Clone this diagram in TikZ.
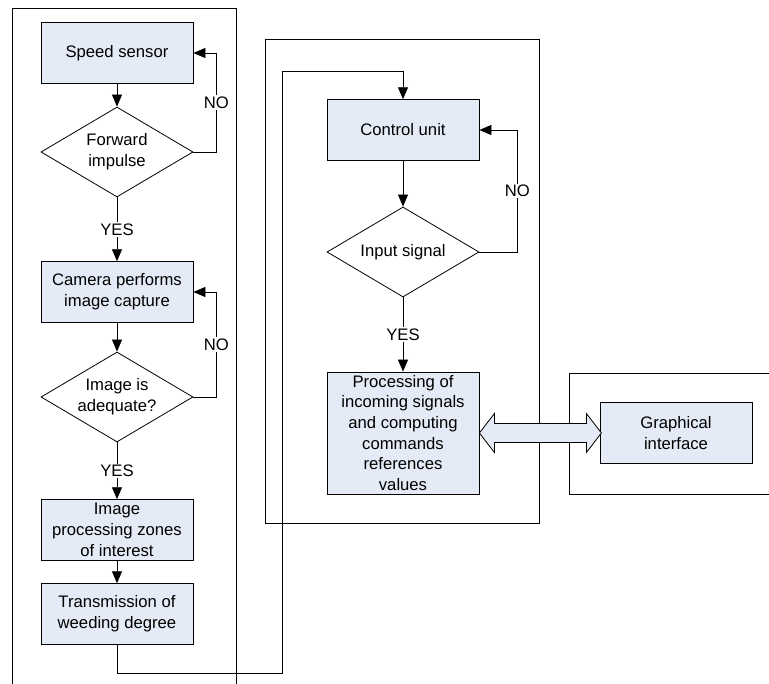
\documentclass[tikz,border=0pt]{standalone}
\usepackage{fontspec}
\setmainfont{Liberation Sans}
\usetikzlibrary{shapes.geometric,arrows.meta}
\definecolor{boxblue}{RGB}{229,235,246}
\begin{document}
\begin{tikzpicture}[x=0.75pt,y=-0.75pt,line width=0.6pt,
      font=\fontsize{12.5}{15.5}\selectfont,
      blk/.style={draw, fill=boxblue, minimum width=114pt, minimum height=45.5pt, align=center, inner sep=1pt},
      test/.style={draw, diamond, aspect=1.7, minimum width=114pt, minimum height=67.5pt, align=center, inner sep=0pt},
      arr/.style={-{Triangle[length=9pt,width=7.5pt]}},
      lbl/.style={fill=white, inner sep=1pt}]
      \useasboundingbox (0,0) rectangle (769,684);
      % panels
      \draw (12,684) -- (12,8) -- (236,8) -- (236,684);
      \draw (265,39) rectangle (539,523);
      \draw (769,373) -- (569,373) -- (569,494) -- (769,494);
      % left column
      \node[blk] (speed) at (117,53) {Speed sensor};
      \node[test] (fwd) at (117,152) {Forward\\impulse};
      \node[blk] (camera) at (117,292) {Camera performs\\image capture};
      \node[test] (adeq) at (117,397) {Image is\\adequate?};
      \node[blk] (zones) at (117,530) {Image\\processing zones\\of interest};
      \node[blk] (trans) at (117,614) {Transmission of\\weeding degree};
      % middle and right
      \node[blk] (ctrl) at (403,130) {Control unit};
      \node[test] (input) at (403,252) {Input signal};
      \node[blk, minimum height=91.5pt] (proc) at (403,433) {Processing of\\incoming signals\\and computing\\commands\\references\\values};
      \node[blk] (gui) at (676,433) {Graphical\\interface};
      \coordinate (c1) at (282,673);
      \coordinate (c2) at (282,71);
      % connectors
      \draw[arr] (speed) -- (fwd);
      \draw[arr] (fwd) -- node[lbl] {YES} (camera);
      \draw[arr] (fwd.east) -- ++(23,0) |- node[lbl, pos=.25] {NO} (speed.east);
      \draw[arr] (camera) -- (adeq);
      \draw[arr] (adeq) -- node[lbl] {YES} (zones);
      \draw[arr] (adeq.east) -- ++(23,0) |- node[lbl, pos=.25] {NO} (camera.east);
      \draw[arr] (zones) -- (trans);
      \draw[arr] (trans) |- (c1) -- (c2) -| (ctrl);
      \draw[arr] (ctrl) -- (input);
      \draw[arr] (input) -- node[lbl] {YES} (proc);
      \draw[arr] (input.east) -- ++(38,0) |- node[lbl, pos=.25] {NO} (ctrl.east);
      \draw[fill=boxblue] (proc.east) -- ++(15,-19.5) -- ++(0,10) -- ++(92,0) -- ++(0,-10) -- ++(15,19.5)
            -- ++(-15,19.5) -- ++(0,-10) -- ++(-92,0) -- ++(0,10) -- cycle;
\end{tikzpicture}
\end{document}
